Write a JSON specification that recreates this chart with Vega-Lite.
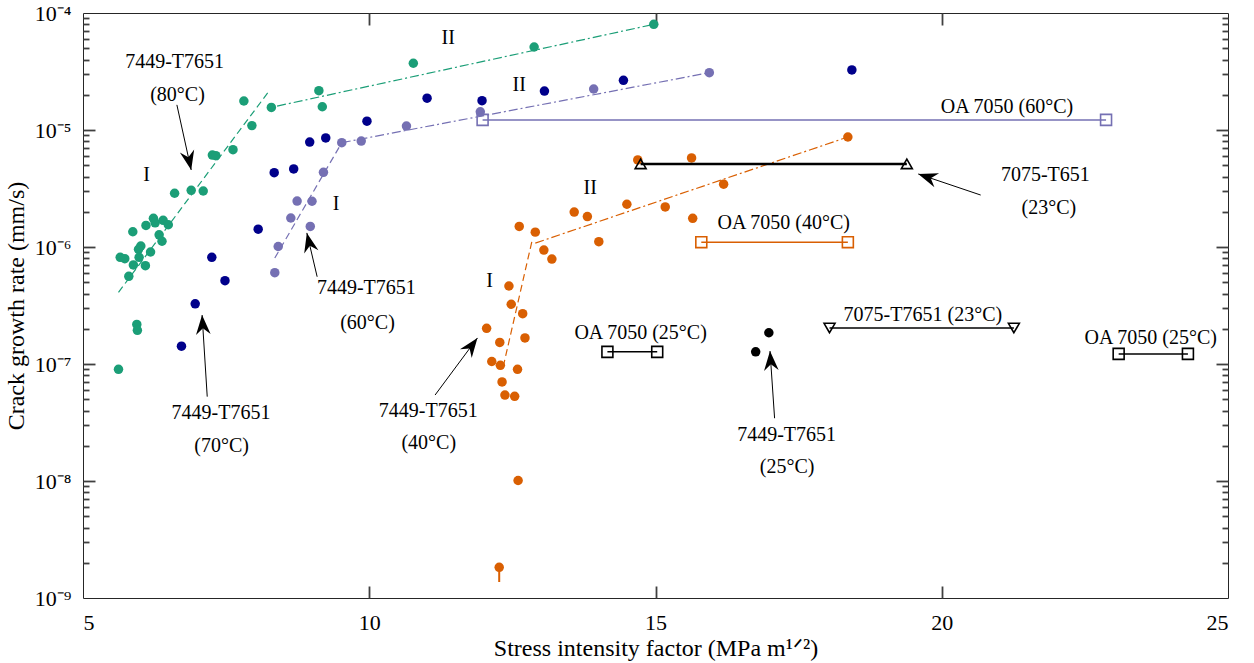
{
"$schema": "https://vega.github.io/schema/vega-lite/v6.json",
"width": 1145, "height": 585,
"autosize": {"type": "none"},
"padding": {"left": 83, "top": 13, "right": 26, "bottom": 65},
"background": "white",
"config": {
  "font": "Liberation Serif",
  "view": {"stroke": null},
  "axis": {"grid": false, "domainColor": "#262626", "tickColor": "#404040", "labelColor": "#000", "titleColor": "#000",
           "labelFont": "Liberation Serif", "titleFont": "Liberation Serif", "labelFontSize": 22, "titleFontSize": 24, "titleFontWeight": "normal"}
},
"datasets": {
  "pts": [
    {"K":10.77,"rate":3.72e-5,"temp":"80°C"},{"K":9.12,"rate":2.17e-5,"temp":"80°C"},{"K":9.18,"rate":1.58e-5,"temp":"80°C"},
    {"K":8.29,"rate":1.56e-5,"temp":"80°C"},{"K":7.81,"rate":1.77e-5,"temp":"80°C"},{"K":7.95,"rate":1.09e-5,"temp":"80°C"},
    {"K":7.62,"rate":6.79e-6,"temp":"80°C"},{"K":7.26,"rate":6.11e-6,"temp":"80°C"},{"K":7.32,"rate":6.03e-6,"temp":"80°C"},
    {"K":6.89,"rate":3.05e-6,"temp":"80°C"},{"K":7.10,"rate":3.01e-6,"temp":"80°C"},{"K":6.60,"rate":2.88e-6,"temp":"80°C"},
    {"K":6.23,"rate":1.76e-6,"temp":"80°C"},{"K":6.26,"rate":1.61e-6,"temp":"80°C"},{"K":6.10,"rate":1.53e-6,"temp":"80°C"},
    {"K":6.40,"rate":1.69e-6,"temp":"80°C"},{"K":6.49,"rate":1.55e-6,"temp":"80°C"},{"K":5.87,"rate":1.35e-6,"temp":"80°C"},
    {"K":6.33,"rate":1.27e-6,"temp":"80°C"},{"K":6.38,"rate":1.12e-6,"temp":"80°C"},{"K":6.01,"rate":1.02e-6,"temp":"80°C"},
    {"K":5.97,"rate":9.55e-7,"temp":"80°C"},{"K":6.18,"rate":9.06e-7,"temp":"80°C"},{"K":5.65,"rate":8.16e-7,"temp":"80°C"},
    {"K":5.73,"rate":7.94e-7,"temp":"80°C"},{"K":5.98,"rate":8.16e-7,"temp":"80°C"},{"K":5.88,"rate":7.02e-7,"temp":"80°C"},
    {"K":6.09,"rate":6.92e-7,"temp":"80°C"},{"K":5.80,"rate":5.62e-7,"temp":"80°C"},{"K":5.94,"rate":2.18e-7,"temp":"80°C"},
    {"K":5.95,"rate":1.94e-7,"temp":"80°C"},{"K":5.62,"rate":9.01e-8,"temp":"80°C"},{"K":14.97,"rate":8.0e-5,"temp":"80°C"},
    {"K":12.88,"rate":5.12e-5,"temp":"80°C"},
    {"K":11.01,"rate":1.87e-5,"temp":"70°C"},{"K":11.97,"rate":1.78e-5,"temp":"70°C"},{"K":9.96,"rate":1.19e-5,"temp":"70°C"},
    {"K":8.96,"rate":7.89e-6,"temp":"70°C"},{"K":9.24,"rate":8.55e-6,"temp":"70°C"},{"K":8.34,"rate":4.32e-6,"temp":"70°C"},
    {"K":8.68,"rate":4.65e-6,"temp":"70°C"},{"K":8.06,"rate":1.42e-6,"temp":"70°C"},{"K":7.25,"rate":8.16e-7,"temp":"70°C"},
    {"K":7.48,"rate":5.15e-7,"temp":"70°C"},{"K":6.96,"rate":3.27e-7,"temp":"70°C"},{"K":6.72,"rate":1.42e-7,"temp":"70°C"},
    {"K":13.06,"rate":2.15e-5,"temp":"70°C"},{"K":14.44,"rate":2.66e-5,"temp":"70°C"},{"K":18.43,"rate":3.26e-5,"temp":"70°C"},
    {"K":11.94,"rate":1.43e-5,"temp":"60°C"},{"K":10.65,"rate":1.08e-5,"temp":"60°C"},{"K":9.86,"rate":8.05e-6,"temp":"60°C"},
    {"K":9.52,"rate":7.79e-6,"temp":"60°C"},{"K":9.20,"rate":4.35e-6,"temp":"60°C"},{"K":8.74,"rate":2.47e-6,"temp":"60°C"},
    {"K":9.00,"rate":2.46e-6,"temp":"60°C"},{"K":8.63,"rate":1.77e-6,"temp":"60°C"},{"K":8.97,"rate":1.50e-6,"temp":"60°C"},
    {"K":8.41,"rate":1.01e-6,"temp":"60°C"},{"K":8.35,"rate":6.03e-7,"temp":"60°C"},{"K":15.94,"rate":3.09e-5,"temp":"60°C"},
    {"K":13.92,"rate":2.24e-5,"temp":"60°C"},
    {"K":18.36,"rate":8.71e-6,"temp":"40°C"},{"K":14.69,"rate":5.55e-6,"temp":"40°C"},{"K":15.63,"rate":5.77e-6,"temp":"40°C"},
    {"K":16.19,"rate":3.44e-6,"temp":"40°C"},{"K":14.50,"rate":2.32e-6,"temp":"40°C"},{"K":15.17,"rate":2.20e-6,"temp":"40°C"},
    {"K":15.65,"rate":1.76e-6,"temp":"40°C"},{"K":13.58,"rate":1.99e-6,"temp":"40°C"},{"K":13.81,"rate":1.82e-6,"temp":"40°C"},
    {"K":12.62,"rate":1.50e-6,"temp":"40°C"},{"K":12.90,"rate":1.34e-6,"temp":"40°C"},{"K":14.01,"rate":1.11e-6,"temp":"40°C"},
    {"K":13.05,"rate":9.42e-7,"temp":"40°C"},{"K":13.19,"rate":7.89e-7,"temp":"40°C"},{"K":12.44,"rate":4.64e-7,"temp":"40°C"},
    {"K":12.48,"rate":3.24e-7,"temp":"40°C"},{"K":12.68,"rate":2.69e-7,"temp":"40°C"},{"K":12.05,"rate":2.02e-7,"temp":"40°C"},
    {"K":12.28,"rate":1.53e-7,"temp":"40°C"},{"K":12.72,"rate":1.67e-7,"temp":"40°C"},{"K":12.14,"rate":1.05e-7,"temp":"40°C"},
    {"K":12.29,"rate":9.75e-8,"temp":"40°C"},{"K":12.59,"rate":9.01e-8,"temp":"40°C"},{"K":12.32,"rate":7.02e-8,"temp":"40°C"},
    {"K":12.37,"rate":5.43e-8,"temp":"40°C"},{"K":12.54,"rate":5.29e-8,"temp":"40°C"},{"K":12.60,"rate":1.01e-8,"temp":"40°C"},
    {"K":12.27,"rate":1.83e-9,"temp":"40°C"},
    {"K":16.98,"rate":1.85e-7,"temp":"25°C"},{"K":16.75,"rate":1.27e-7,"temp":"25°C"}
  ],
  "errbar": [{"K":12.27,"lo":1.37e-9,"hi":1.83e-9,"temp":"40°C"}],
  "fits": [
    {"temp":"80°C","stage":"I","x1":5.62,"y1":4.1e-7,"x2":8.24,"y2":2.12e-5},
    {"temp":"80°C","stage":"II","x1":8.39,"y1":1.6e-5,"x2":14.97,"y2":8.0e-5},
    {"temp":"60°C","stage":"I","x1":8.35,"y1":8.05e-7,"x2":9.52,"y2":7.79e-6},
    {"temp":"60°C","stage":"II","x1":9.52,"y1":7.79e-6,"x2":15.94,"y2":3.09e-5},
    {"temp":"40°C","stage":"I","x1":12.34,"y1":9.48e-8,"x2":12.84,"y2":1.11e-6},
    {"temp":"40°C","stage":"II","x1":12.90,"y1":1.08e-6,"x2":18.36,"y2":8.71e-6}
  ],
  "ranges": [
    {"alloy":"OA 7050","temp":"60°C","x1":11.98,"x2":22.87,"rate":1.22e-5},
    {"alloy":"OA 7050","temp":"40°C","x1":15.80,"x2":18.36,"rate":1.10e-6},
    {"alloy":"OA 7050","temp":"25°C","x1":14.16,"x2":15.03,"rate":1.27e-7},
    {"alloy":"OA 7050","temp":"25°C","x1":23.09,"x2":24.30,"rate":1.22e-7},
    {"alloy":"7075-T7651","temp":"23°C","x1":18.04,"x2":21.26,"rate":2.03e-7},
    {"alloy":"7075-T651","temp":"23°C","x1":14.74,"x2":19.39,"rate":5.13e-6}
  ],
  "arrows": [
    {"x1":6.64,"y1":1.64e-5,"x2":6.89,"y2":4.55e-6},
    {"x1":9.09,"y1":5.57e-7,"x2":8.91,"y2":1.32e-6},
    {"x1":7.17,"y1":5.26e-8,"x2":7.08,"y2":2.62e-7},
    {"x1":11.15,"y1":5.43e-8,"x2":11.89,"y2":1.67e-7},
    {"x1":17.08,"y1":3.44e-8,"x2":17.0,"y2":1.29e-7},
    {"x1":20.68,"y1":2.78e-6,"x2":19.59,"y2":4.21e-6}
  ],
  "labels": [
    {"x":6.60,"y":3.84e-5,"t":"7449-T7651"},
    {"x":6.65,"y":1.99e-5,"t":"(80°C)"},
    {"x":6.11,"y":4.12e-6,"t":"I"},
    {"x":11.38,"y":6.08e-5,"t":"II"},
    {"x":12.62,"y":2.43e-5,"t":"II"},
    {"x":9.42,"y":2.33e-6,"t":"I"},
    {"x":13.86,"y":3.18e-6,"t":"II"},
    {"x":12.10,"y":5.12e-7,"t":"I"},
    {"x":9.95,"y":4.47e-7,"t":"7449-T7651"},
    {"x":9.97,"y":2.25e-7,"t":"(60°C)"},
    {"x":7.41,"y":3.79e-8,"t":"7449-T7651"},
    {"x":7.42,"y":2.0e-8,"t":"(70°C)"},
    {"x":11.03,"y":3.99e-8,"t":"7449-T7651"},
    {"x":11.04,"y":2.1e-8,"t":"(40°C)"},
    {"x":17.29,"y":2.47e-8,"t":"7449-T7651"},
    {"x":17.30,"y":1.32e-8,"t":"(25°C)"},
    {"x":21.14,"y":1.57e-5,"t":"OA 7050 (60°C)"},
    {"x":21.81,"y":4.12e-6,"t":"7075-T651"},
    {"x":21.87,"y":2.14e-6,"t":"(23°C)"},
    {"x":17.24,"y":1.6e-6,"t":"OA 7050 (40°C)"},
    {"x":14.74,"y":1.83e-7,"t":"OA 7050 (25°C)"},
    {"x":19.67,"y":2.62e-7,"t":"7075-T7651  (23°C)"},
    {"x":23.65,"y":1.67e-7,"t":"OA 7050 (25°C)"}
  ]
},
"resolve": {"axis": {"x": "independent", "y": "independent"}},
"layer": [
  {
    "data": {"name": "fits"},
    "mark": {"type": "rule", "strokeWidth": 1.2},
    "encoding": {
      "x": {"field": "x1", "type": "quantitative", "scale": {"domain": [5, 25], "nice": false, "zero": false},
            "axis": {"orient": "bottom", "values": [5,10,15,20,25], "ticks": false, "tickSize": 0, "labelPadding": 14,
                     "title": "Stress intensity factor (MPa m¹ᐟ²)", "titlePadding": 3}},
      "y": {"field": "y1", "type": "quantitative", "scale": {"type": "log", "domain": [1e-9, 1e-4], "nice": false},
            "axis": {"orient": "left", "title": "Crack growth rate (mm/s)", "ticks": false, "tickSize": 0, "labelPadding": 12, "titlePadding": 6,
                     "values": [1e-9,1e-8,1e-7,1e-6,1e-5,1e-4],
                     "labelExpr": "'10⁻' + ['⁰','¹','²','³','⁴','⁵','⁶','⁷','⁸','⁹'][-round(log(datum.value)/LN10)]"}},
      "x2": {"field": "x2"},
      "y2": {"field": "y2"},
      "color": {"field": "temp", "type": "nominal", "legend": null,
                "scale": {"domain": ["80°C","70°C","60°C","40°C","25°C","23°C"], "range": ["#1b9e77","#00008b","#7570b3","#d95f02","#000000","#000000"]}},
      "strokeDash": {"field": "stage", "type": "nominal", "legend": null,
                     "scale": {"domain": ["I","II"], "range": [[7,4],[9,3,2,3]]}}
    }
  },
  {
    "data": {"name": "pts"},
    "mark": {"type": "circle", "size": 90, "opacity": 1},
    "encoding": {
      "x": {"field": "K", "type": "quantitative",
            "axis": {"orient": "top", "values": [5,10,15,20,25], "labels": false, "ticks": false, "title": null}},
      "y": {"field": "rate", "type": "quantitative",
            "axis": {"orient": "right", "values": [1e-9,1e-4], "labels": false, "ticks": false, "title": null}},
      "color": {"field": "temp", "type": "nominal", "legend": null}
    }
  },
  {
    "data": {"name": "errbar"},
    "mark": {"type": "rule", "strokeWidth": 2},
    "encoding": {
      "x": {"field": "K", "type": "quantitative",
            "axis": {"orient": "bottom", "values": [10,15,20], "labels": false, "domain": false, "title": null, "ticks": true, "tickSize": 12, "tickWidth": 1.8, "tickColor": "#404040", "offset": -12}},
      "y": {"field": "lo", "type": "quantitative",
            "axis": {"orient": "left", "values": [1e-8,1e-7,1e-6,1e-5], "labels": false, "domain": false, "title": null, "ticks": true, "tickSize": 12, "tickWidth": 1.8, "tickColor": "#404040", "offset": -12}},
      "y2": {"field": "hi"},
      "color": {"field": "temp", "type": "nominal", "legend": null}
    }
  },
  {
    "data": {"name": "ranges"},
    "mark": {"type": "rule"},
    "encoding": {
      "x": {"field": "x1", "type": "quantitative",
            "axis": {"orient": "top", "values": [10,15,20], "labels": false, "domain": false, "title": null, "ticks": true, "tickSize": 12, "tickWidth": 1.8, "tickColor": "#404040", "offset": -12}},
      "x2": {"field": "x2"},
      "y": {"field": "rate", "type": "quantitative",
            "axis": {"orient": "left", "labels": false, "domain": false, "title": null, "ticks": true, "tickSize": 6, "tickWidth": 1.8, "tickColor": "#404040", "offset": -6,
                     "values": [2e-9,3e-9,4e-9,5e-9,6e-9,7e-9,8e-9,9e-9,2e-8,3e-8,4e-8,5e-8,6e-8,7e-8,8e-8,9e-8,2e-7,3e-7,4e-7,5e-7,6e-7,7e-7,8e-7,9e-7,2e-6,3e-6,4e-6,5e-6,6e-6,7e-6,8e-6,9e-6,2e-5,3e-5,4e-5,5e-5,6e-5,7e-5,8e-5,9e-5]}},
      "color": {"field": "temp", "type": "nominal", "legend": null},
      "strokeWidth": {"condition": {"test": "datum.alloy == '7075-T651'", "value": 2.5}, "value": 1.5}
    }
  },
  {
    "data": {"name": "ranges"},
    "transform": [{"fold": ["x1", "x2"], "as": ["end", "xe"]}],
    "mark": {"type": "point", "filled": false, "size": 120, "strokeWidth": 1.6, "opacity": 1},
    "encoding": {
      "x": {"field": "xe", "type": "quantitative", "axis": null},
      "y": {"field": "rate", "type": "quantitative",
            "axis": {"orient": "right", "values": [1e-8,1e-7,1e-6,1e-5], "labels": false, "domain": false, "title": null, "ticks": true, "tickSize": 12, "tickWidth": 1.8, "tickColor": "#404040", "offset": -12}},
      "color": {"field": "temp", "type": "nominal", "legend": null},
      "shape": {"field": "alloy", "type": "nominal", "legend": null,
                "scale": {"domain": ["OA 7050","7075-T7651","7075-T651"], "range": ["square","triangle-down","triangle-up"]}}
    }
  },
  {
    "data": {"name": "arrows"},
    "mark": {"type": "rule", "color": "#000", "strokeWidth": 1},
    "encoding": {
      "x": {"field": "x1", "type": "quantitative", "axis": null},
      "y": {"field": "y1", "type": "quantitative",
            "axis": {"orient": "right", "labels": false, "domain": false, "title": null, "ticks": true, "tickSize": 6, "tickWidth": 1.8, "tickColor": "#404040", "offset": -6,
                     "values": [2e-9,3e-9,4e-9,5e-9,6e-9,7e-9,8e-9,9e-9,2e-8,3e-8,4e-8,5e-8,6e-8,7e-8,8e-8,9e-8,2e-7,3e-7,4e-7,5e-7,6e-7,7e-7,8e-7,9e-7,2e-6,3e-6,4e-6,5e-6,6e-6,7e-6,8e-6,9e-6,2e-5,3e-5,4e-5,5e-5,6e-5,7e-5,8e-5,9e-5]}},
      "x2": {"field": "x2"},
      "y2": {"field": "y2"}
    }
  },
  {
    "data": {"name": "arrows"},
    "transform": [{"calculate": "atan2((datum.x2 - datum.x1) * 57.2, (log(datum.y2) - log(datum.y1)) / LN10 * 117) * 180 / PI", "as": "ang"}],
    "mark": {"type": "point", "filled": true, "color": "#000", "opacity": 1, "size": 380,
             "shape": "M0,0L-0.75,2L0,1.35L0.75,2Z"},
    "encoding": {
      "x": {"field": "x2", "type": "quantitative", "axis": null},
      "y": {"field": "y2", "type": "quantitative", "axis": null},
      "angle": {"field": "ang", "type": "quantitative", "scale": null}
    }
  },
  {
    "data": {"name": "labels"},
    "mark": {"type": "text", "font": "Liberation Serif", "fontSize": 20, "align": "center", "baseline": "middle", "color": "#000"},
    "encoding": {
      "x": {"field": "x", "type": "quantitative", "axis": null},
      "y": {"field": "y", "type": "quantitative", "axis": null},
      "text": {"field": "t", "type": "nominal"}
    }
  }
]
}
